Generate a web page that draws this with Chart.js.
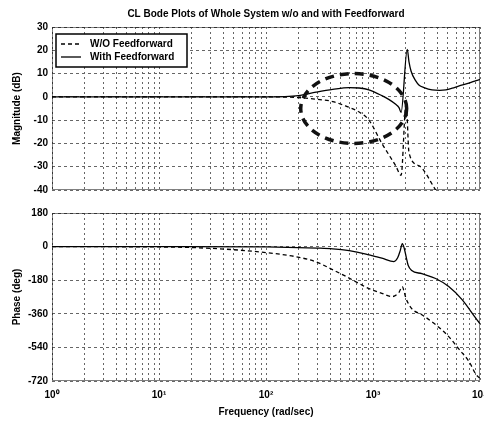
<!DOCTYPE html>
<html>
<head>
<meta charset="utf-8">
<script src="https://cdn.jsdelivr.net/npm/chart.js@4.4.1/dist/chart.umd.min.js"></script>
<style>
  html, body { margin: 0; padding: 0; background: #fff; }
  #wrap { position: relative; width: 484px; height: 423px; }
  #magBox { position: absolute; left: 0; top: 0; width: 484px; height: 200px; }
  #phBox { position: absolute; left: 0; top: 200px; width: 484px; height: 223px; }
</style>
</head>
<body>
<div id="wrap">
  <div id="magBox"><canvas id="mag"></canvas></div>
  <div id="phBox"><canvas id="ph"></canvas></div>
</div>
<script>
// frequencies in rad/sec
var freqMagWo = [1, 10, 100, 200, 294, 420, 560, 742, 916, 1210, 1630, 1830, 2040, 2170, 2700, 3850, 5000];
var magWo     = [0, 0, 0, -0.3, -1, -2, -4, -6.5, -10, -20, -29.6, -33.7, -2.5, -24, -29.6, -40, -48];

var freqMagFf = [1, 10, 100, 150, 200, 294, 420, 598, 742, 916, 1210, 1415, 1630, 1750, 1830, 2090, 2170, 2270, 2500, 2700, 3000, 3560, 4200, 4800, 5500, 6300, 8000, 9200, 10000];
var magFf     = [0, 0, 0, 0.1, 0.5, 2, 3.2, 4, 3.8, 3, 0.5, -1.2, -3.2, -4.6, -6.7, 20.4, 15, 11, 7, 5, 4, 3, 2.8, 3, 3.7, 4.6, 6, 7, 7.5];

var freqPhWo = [1, 10, 20, 48, 100, 190, 294, 413, 560, 742, 916, 1210, 1500, 1750, 1880, 1960, 2040, 2300, 2860, 3850, 5100, 6300, 7900, 9200, 10000];
var phWo     = [0, -2, -5, -16, -32, -54, -82, -122, -160, -198, -225, -250, -268, -245, -214, -245, -279, -332, -365, -418, -482, -547, -616, -686, -705];

var freqPhFf = [1, 10, 100, 200, 300, 420, 600, 860, 1000, 1210, 1570, 1700, 1800, 1880, 1960, 2050, 2130, 2300, 2860, 3850, 5100, 6800, 9200, 10000];
var phFf     = [0, 0, -2, -5, -8, -12, -22, -40, -50, -62, -80, -60, -20, 16, -10, -60, -100, -128, -145, -171, -214, -284, -386, -413];

var magTicks = [30, 20, 10, 0, -10, -20, -30, -40];
var phaseTicks = [180, 0, -180, -360, -540, -720];
var decadeLabels = ['10\u2070', '10\u00b9', '10\u00b2', '10\u00b3', '10\u2074'];
var seriesLabels = ['W/O Feedforward', 'With Feedforward'];
var chartTitle = 'CL Bode Plots of Whole System w/o and with Feedforward';

// dashed circle drawn round the region of interest (data units)
var highlight = { freq: 660, decades: 0.495, db: -5, dbHalf: 15 };

var FONT = '"Liberation Sans", Arial, sans-serif';
var GRID = '#666';

// grid at 1..9 x 10^n
var gridFreqs = [];
for (var e = 0; e < 4; e++) {
  for (var m = 1; m < 10; m++) gridFreqs.push(m * Math.pow(10, e));
}
gridFreqs.push(10000);

function pairs(xs, ys) {
  return xs.map(function (x, i) { return { x: x, y: ys[i] }; });
}

function series(label, xs, ys, dashed) {
  return {
    label: label,
    data: pairs(xs, ys),
    borderColor: '#000',
    borderWidth: 1.3,
    borderDash: dashed ? [4, 3] : [],
    pointRadius: 0,
    fill: false,
    cubicInterpolationMode: 'monotone'
  };
}

function freqAxis(showLabels) {
  return {
    type: 'logarithmic',
    min: 1,
    max: 10000,
    afterBuildTicks: function (scale) {
      scale.ticks = gridFreqs.map(function (v) { return { value: v }; });
    },
    afterFit: function (scale) {
      scale.height = showLabels ? 42 : 0;
      // let the end labels hang over the edge like the original
      scale.paddingLeft = 0;
      scale.paddingRight = 0;
    },
    ticks: {
      display: showLabels,
      autoSkip: false,
      maxRotation: 0,
      padding: 8,
      color: '#000',
      font: { family: FONT, size: 10, weight: 'bold' },
      callback: function (v) {
        var ex = Math.log10(v);
        return Math.abs(ex - Math.round(ex)) < 1e-9 ? decadeLabels[Math.round(ex)] : '';
      }
    },
    grid: { color: GRID, lineWidth: 1, drawTicks: false },
    border: { display: false, dash: [2, 3] },
    title: {
      display: showLabels,
      text: 'Frequency (rad/sec)',
      color: '#000',
      font: { family: FONT, size: 10, weight: 'bold' },
      padding: { top: 0, bottom: 5 }
    }
  };
}

function valueAxis(tickList, titleText) {
  return {
    min: tickList[tickList.length - 1],
    max: tickList[0],
    afterBuildTicks: function (scale) {
      scale.ticks = tickList.map(function (v) { return { value: v }; });
    },
    afterFit: function (scale) { scale.width = 52; },
    ticks: { color: '#000', padding: 4, font: { family: FONT, size: 10, weight: 'bold' } },
    grid: { color: GRID, lineWidth: 1, drawTicks: false },
    border: { display: false, dash: [3, 3] },
    title: {
      display: true,
      text: titleText,
      color: '#000',
      font: { family: FONT, size: 10, weight: 'bold' },
      padding: { top: 11, bottom: 0 }
    }
  };
}

var frame = {
  id: 'frame',
  afterDraw: function (chart) {
    var a = chart.chartArea, ctx = chart.ctx;
    ctx.save();
    ctx.strokeStyle = '#000';
    ctx.lineWidth = 1;
    ctx.setLineDash([1, 1]);
    ctx.strokeRect(a.left + 0.5, a.top + 0.5, a.right - a.left - 1, a.bottom - a.top - 1);
    ctx.restore();
  }
};

var ellipse = {
  id: 'highlight',
  afterDatasetsDraw: function (chart) {
    var xs = chart.scales.x, ys = chart.scales.y, ctx = chart.ctx;
    var cx = xs.getPixelForValue(highlight.freq);
    var rx = xs.getPixelForValue(highlight.freq * Math.pow(10, highlight.decades)) - cx;
    var cy = ys.getPixelForValue(highlight.db);
    var ry = ys.getPixelForValue(highlight.db - highlight.dbHalf) - cy;
    ctx.save();
    ctx.strokeStyle = '#111';
    ctx.lineWidth = 3.5;
    ctx.setLineDash([9, 6]);
    ctx.beginPath();
    ctx.ellipse(cx, cy, rx, ry, 0, 0, 2 * Math.PI);
    ctx.stroke();
    ctx.restore();
  }
};

var legendBox = {
  id: 'legendBox',
  afterDraw: function (chart) {
    var a = chart.chartArea, ctx = chart.ctx;
    var x = a.left + 4, y = a.top + 7, w = 131, h = 33;
    ctx.save();
    ctx.fillStyle = '#fff';
    ctx.fillRect(x, y, w, h);
    ctx.strokeStyle = '#000';
    ctx.lineWidth = 1.5;
    ctx.setLineDash([]);
    ctx.strokeRect(x, y, w, h);
    chart.data.datasets.forEach(function (ds, i) {
      var ly = y + 10 + i * 13;
      ctx.beginPath();
      ctx.setLineDash(ds.borderDash);
      ctx.lineWidth = ds.borderWidth;
      ctx.strokeStyle = ds.borderColor;
      ctx.moveTo(x + 5, ly);
      ctx.lineTo(x + 25, ly);
      ctx.stroke();
      ctx.setLineDash([]);
      ctx.fillStyle = '#000';
      ctx.font = 'bold 10px ' + FONT;
      ctx.textBaseline = 'middle';
      ctx.fillText(ds.label, x + 34, ly);
    });
    ctx.restore();
  }
};

new Chart(document.getElementById('mag'), {
  type: 'line',
  data: {
    datasets: [
      series(seriesLabels[0], freqMagWo, magWo, true),
      series(seriesLabels[1], freqMagFf, magFf, false)
    ]
  },
  options: {
    responsive: true,
    maintainAspectRatio: false,
    animation: false,
    devicePixelRatio: 1,
    parsing: false,
    layout: { autoPadding: false, padding: { left: 0, right: 4, top: 0, bottom: 5 } },
    scales: { x: freqAxis(false), y: valueAxis(magTicks, 'Magnitude (dB)') },
    plugins: {
      legend: { display: false },
      tooltip: { enabled: false },
      title: {
        display: true,
        text: chartTitle,
        fullSize: false,
        color: '#000',
        font: { family: FONT, size: 10, weight: 'bold' },
        padding: { top: 8, bottom: 7 }
      }
    }
  },
  plugins: [ellipse, frame, legendBox]
});

new Chart(document.getElementById('ph'), {
  type: 'line',
  data: {
    datasets: [
      series(seriesLabels[0], freqPhWo, phWo, true),
      series(seriesLabels[1], freqPhFf, phFf, false)
    ]
  },
  options: {
    responsive: true,
    maintainAspectRatio: false,
    animation: false,
    devicePixelRatio: 1,
    parsing: false,
    layout: { autoPadding: false, padding: { left: 0, right: 4, top: 13, bottom: 0 } },
    scales: { x: freqAxis(true), y: valueAxis(phaseTicks, 'Phase (deg)') },
    plugins: { legend: { display: false }, tooltip: { enabled: false } }
  },
  plugins: [frame]
});
</script>
</body>
</html>
